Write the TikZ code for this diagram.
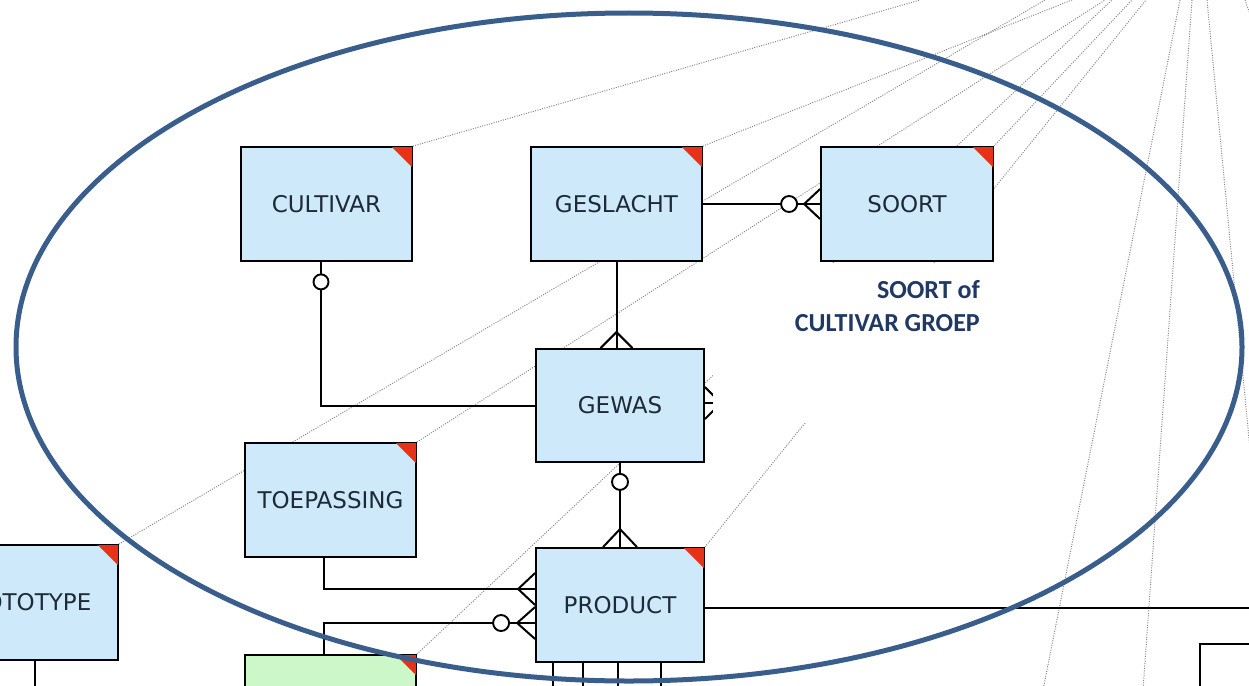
\documentclass[tikz,border=0pt]{standalone}
\usepackage{fontspec}
\setmainfont{DejaVu Sans}
\newfontfamily\lblfont{Carlito}
\usetikzlibrary{calc}
\definecolor{boxblue}{RGB}{205,233,250}
\definecolor{boxgreen}{RGB}{204,247,200}
\definecolor{flagred}{RGB}{232,50,24}
\definecolor{ellblue}{RGB}{58,94,140}
\definecolor{txtc}{RGB}{30,42,56}
\definecolor{lblc}{RGB}{31,56,100}
\definecolor{dotgray}{RGB}{135,135,135}
\pgfdeclarelayer{bg}
\pgfdeclarelayer{fg}
\pgfsetlayers{bg,main,fg}
\begin{document}
\begin{tikzpicture}[x=1pt,y=-1pt,
  ent/.style={draw=black, line width=1.8pt, fill=boxblue, inner sep=0pt,
    minimum width=171pt, minimum height=114pt,
    font=\fontsize{23}{27}\selectfont, text=txtc},
  conn/.style={draw=black, line width=2pt},
  dotl/.style={draw=dotgray, line width=1pt, dash pattern=on 1pt off 1.4pt},
  ring/.style={draw=black, line width=1.9pt, fill=white},
  lblt/.style={font=\lblfont\bfseries\fontsize{26}{30}\selectfont, text=lblc, inner sep=0pt}
]
\useasboundingbox (0,0) rectangle (1249,685);
\clip (0,0) rectangle (1249,685);

% entities
\node[ent] (cult) at (326.5,204) {CULTIVAR};
\node[ent] (gesl) at (616.5,204) {GESLACHT};
\node[ent, minimum width=172pt] (soort) at (907,204) {SOORT};
\node[ent, minimum width=168pt, minimum height=113pt] (gewas) at (620,405.5) {GEWAS};
\node[ent] (toep) at (330.5,500) {TOEPASSING};
\node[ent, minimum width=168pt] (prod) at (620,605) {PRODUCT};
\node[ent, minimum width=190pt, minimum height=115pt] (proto) at (23,602.5) {PROTOTYPE};
\node[ent, fill=boxgreen, minimum height=115pt] (green) at (330.5,712.5) {};
\node[draw=black, line width=1.8pt, fill=white, inner sep=0pt, minimum width=120pt,
  minimum height=100pt, anchor=north west] (brbox) at (1199,643) {};

% red corner flags
\foreach \n in {cult,gesl,soort,toep,prod,proto,green}{
  \fill[flagred] ($(\n.north east)+(-21,0.9)$) -- ($(\n.north east)+(-0.9,0.9)$)
    -- ($(\n.north east)+(-0.9,21)$) -- cycle;
}

% dotted background lines
\coordinate (t1) at (920,0);
\coordinate (t2) at (1072,0);
\coordinate (t3) at (1132,0);
\coordinate (t4) at (1045,0);
\coordinate (t5) at (1105,0);
\coordinate (t6) at (1112,0);
\coordinate (t7) at (1146,0);
\coordinate (s1a) at (1180,0);  \coordinate (s1b) at (1043,690);
\coordinate (s2a) at (1192,0);  \coordinate (s2b) at (1143,690);
\coordinate (s3a) at (1207,0);  \coordinate (s3b) at (1252,470);
\coordinate (s4a) at (1245,0);  \coordinate (s4b) at (1252,20);
\begin{pgfonlayer}{bg}
  \draw[dotl] (cult.north east) -- (t1);
  \draw[dotl] (gesl.north east) -- (t2);
  \draw[dotl] (soort.north east) -- (t3);
  \draw[dotl] (proto.north east) -- (t4);
  \draw[dotl] (toep.north east) -- (t5);
  \draw[dotl] (green.north east) -- (t6);
  \draw[dotl] (prod.north east) -- (t7);
  \draw[dotl] (s1a) -- (s1b);
  \draw[dotl] (s2a) -- (s2b);
  \draw[dotl] (s3a) -- (s3b);
  \draw[dotl] (s4a) -- (s4b);
\end{pgfonlayer}

% GESLACHT -- SOORT
\draw[conn] (gesl.east) -- (soort.west);
\draw[conn] ($(soort.west)+(0,-15)$) -- ($(soort.west)+(-16,0)$) -- ($(soort.west)+(0,15)$);
\draw[ring] ($(soort.west)+(-31,0)$) circle[radius=8pt];

% CULTIVAR -- GEWAS
\coordinate (cs) at ($(cult.south)+(-5.5,0)$);
\draw[conn] (cs) |- (gewas.west);
\draw[ring] ($(cs)+(0,20)$) circle[radius=7.5pt];

% GESLACHT -- GEWAS
\coordinate (gn) at (gesl.south |- gewas.north);
\draw[conn] (gesl.south) -- (gn);
\draw[conn] ($(gn)+(-16,0)$) -- ($(gn)+(0,-16)$) -- ($(gn)+(16,0)$);

% GEWAS right stub
\coordinate (ge) at ($(gewas.east)+(0,-2.5)$);
\draw[conn] (ge) -- ++(16,0);
\draw[conn] ($(ge)+(0,-16)$) -- ($(ge)+(16,0)$) -- ($(ge)+(0,16)$);

% GEWAS -- PRODUCT
\draw[conn] (gewas.south) -- (prod.north);
\draw[conn] ($(prod.north)+(-17,0)$) -- ($(prod.north)+(0,-18)$) -- ($(prod.north)+(17,0)$);
\draw[ring] ($(gewas.south)+(0,19)$) circle[radius=8pt];

% TOEPASSING -- PRODUCT
\coordinate (tp) at ($(toep.south)+(-6.5,0)$);
\coordinate (pw1) at ($(prod.west)+(0,-16)$);
\draw[conn] (tp) |- (pw1);
\draw[conn] ($(pw1)+(0,-16)$) -- ($(pw1)+(-17,0)$) -- ($(pw1)+(0,16)$);

% green -- PRODUCT
\coordinate (gt) at ($(green.north)+(-6.5,0)$);
\coordinate (pw2) at ($(prod.west)+(0,18)$);
\draw[conn] (gt) |- (pw2);
\draw[conn] ($(pw2)+(0,-16)$) -- ($(pw2)+(-18,0)$) -- ($(pw2)+(0,16)$);
\draw[ring] ($(pw2)+(-34,0)$) circle[radius=8pt];

% PRODUCT -- right
\coordinate (pe) at ($(prod.east)+(0,3)$);
\coordinate (rend) at (1260,608);
\draw[conn] (pe) -- (rend);

% PRODUCT bottom lines
\foreach \dx in {-67,-37,-2,41}{
  \draw[conn] ($(prod.south)+(\dx,0)$) -- ($(prod.south)+(\dx,30)$);
}
% PROTOTYPE bottom line
\draw[conn] ($(proto.south)+(12,0)$) -- ($(proto.south)+(12,30)$);

\begin{pgfonlayer}{fg}
  \fill[white] (713,263) rectangle (1060,423);
  \node[lblt, anchor=base east] (lab1) at (980,298) {SOORT of};
  \node[lblt, anchor=base east] (lab2) at (980,331) {CULTIVAR GROEP};
  \draw[ellblue, line width=5pt] (629,347) ellipse [x radius=613pt, y radius=334pt];
\end{pgfonlayer}
\end{tikzpicture}
\end{document}
